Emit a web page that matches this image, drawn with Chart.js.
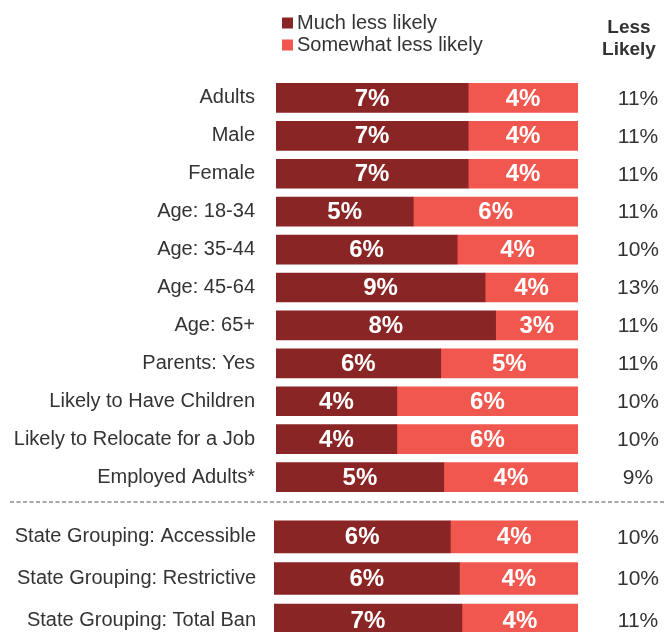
<!DOCTYPE html>
<html>
<head>
<title>Less Likely</title>
<script src="https://cdn.jsdelivr.net/npm/chart.js"></script>
<style>
  body { margin: 0; width: 664px; height: 632px; overflow: hidden; background: #fff; position: relative; }
  canvas { position: absolute; left: 0; }
</style>
</head>
<body>
<canvas id="mainChart" width="664" height="500" style="top:0"></canvas>
<canvas id="stateChart" width="664" height="141" style="top:500px"></canvas>
<script>
// groups above the dashed line
const groups = ['Adults', 'Male', 'Female', 'Age: 18-34', 'Age: 35-44', 'Age: 45-64', 'Age: 65+',
  'Parents: Yes', 'Likely to Have Children', 'Likely to Relocate for a Job', 'Employed Adults*'];
const muchLess = [7, 7, 7, 5, 6, 9, 8, 6, 4, 4, 5];
const somewhatLess = [4, 4, 4, 6, 4, 4, 3, 5, 6, 6, 4];
const lessLikely = [11, 11, 11, 11, 10, 13, 11, 11, 10, 10, 9];

// state groupings below the line
const stateGroups = ['State Grouping: Accessible', 'State Grouping: Restrictive', 'State Grouping: Total Ban'];
const stateMuchLess = [5.8, 6.1, 6.8];
const stateSomewhatLess = [4.2, 3.9, 4.2];
const stateLessLikely = [10, 10, 11];

const seriesNames = ['Much less likely', 'Somewhat less likely'];
const seriesColors = ['#8a2525', '#f0574f'];

const FONT = '"Liberation Sans", Arial, sans-serif';
const TEXT = '#333';

// each bar fills the full width, split by share of the total
function share(a, b) {
  return a.map((v, i) => v / (v + b[i]) * 100);
}

const barText = {
  id: 'barText',
  afterDatasetsDraw(chart, args, opts) {
    const ctx = chart.ctx;
    ctx.save();
    ctx.textAlign = 'center';
    ctx.textBaseline = 'middle';
    ctx.font = 'bold 24px ' + FONT;
    ctx.fillStyle = '#fff';
    chart.data.datasets.forEach((ds, i) => {
      chart.getDatasetMeta(i).data.forEach((bar, j) => {
        ctx.fillText(Math.round(ds.rawValues[j]) + '%', (bar.x + bar.base) / 2, bar.y + 1);
      });
    });
    ctx.font = '21px ' + FONT;
    ctx.fillStyle = TEXT;
    opts.totals.forEach((t, j) => {
      ctx.fillText(t + '%', 638, chart.scales.y.getPixelForValue(j) + 1);
    });
    ctx.restore();
  },
  afterDraw(chart, args, opts) {
    const ctx = chart.ctx;
    ctx.save();
    if (opts.header) {
      ctx.textAlign = 'center';
      ctx.textBaseline = 'middle';
      ctx.fillStyle = TEXT;
      ctx.font = 'bold 19px ' + FONT;
      ctx.fillText('Less', 629, 28);
      ctx.fillText('Likely', 629, 50);
      // legend
      ctx.textAlign = 'left';
      ctx.font = '20px ' + FONT;
      chart.data.datasets.forEach((ds, i) => {
        const cy = 23 + i * 22;
        ctx.fillStyle = ds.backgroundColor;
        ctx.fillRect(282, cy - 5.5, 11, 11);
        ctx.fillStyle = TEXT;
        ctx.fillText(ds.label, 297, cy);
      });
    }
    if (opts.divider) {
      ctx.strokeStyle = '#8c8c8c';
      ctx.lineWidth = 1.5;
      ctx.setLineDash([4, 2.5]);
      ctx.beginPath();
      ctx.moveTo(10, 2);
      ctx.lineTo(664, 2);
      ctx.stroke();
    }
    ctx.restore();
  }
};

function makeChart(id, labels, much, some, totals, cfg) {
  const muchShare = share(much, some);
  const someShare = share(some, much);
  return new Chart(document.getElementById(id), {
    type: 'bar',
    data: {
      labels: labels,
      datasets: [
        { label: seriesNames[0], data: muchShare, rawValues: much, backgroundColor: seriesColors[0], barThickness: cfg.thickness },
        { label: seriesNames[1], data: someShare, rawValues: some, backgroundColor: seriesColors[1], barThickness: cfg.thickness }
      ]
    },
    options: {
      indexAxis: 'y',
      responsive: false,
      animation: false,
      layout: { padding: { top: cfg.top, bottom: cfg.bottom, left: 0, right: 86 } },
      scales: {
        x: { stacked: true, min: 0, max: 100, display: false },
        y: {
          stacked: true,
          grid: { display: false, drawTicks: false },
          border: { display: false },
          ticks: { color: TEXT, font: { family: FONT, size: 20 }, padding: cfg.gap },
          afterFit: (scale) => {
            scale.width = cfg.left;
            scale.paddingTop = 0;
            scale.paddingBottom = 0;
          }
        }
      },
      plugins: {
        legend: { display: false },
        tooltip: { enabled: false },
        barText: { totals: totals, header: cfg.header, divider: cfg.divider }
      }
    },
    plugins: [barText]
  });
}

makeChart('mainChart', groups, muchLess, somewhatLess, lessLikely,
  { thickness: 29, top: 79, bottom: 4, left: 276, gap: 21, header: true, divider: false });
makeChart('stateChart', stateGroups, stateMuchLess, stateSomewhatLess, stateLessLikely,
  { thickness: 32, top: 16, bottom: 0, left: 274, gap: 18, header: false, divider: true });
</script>
</body>
</html>
